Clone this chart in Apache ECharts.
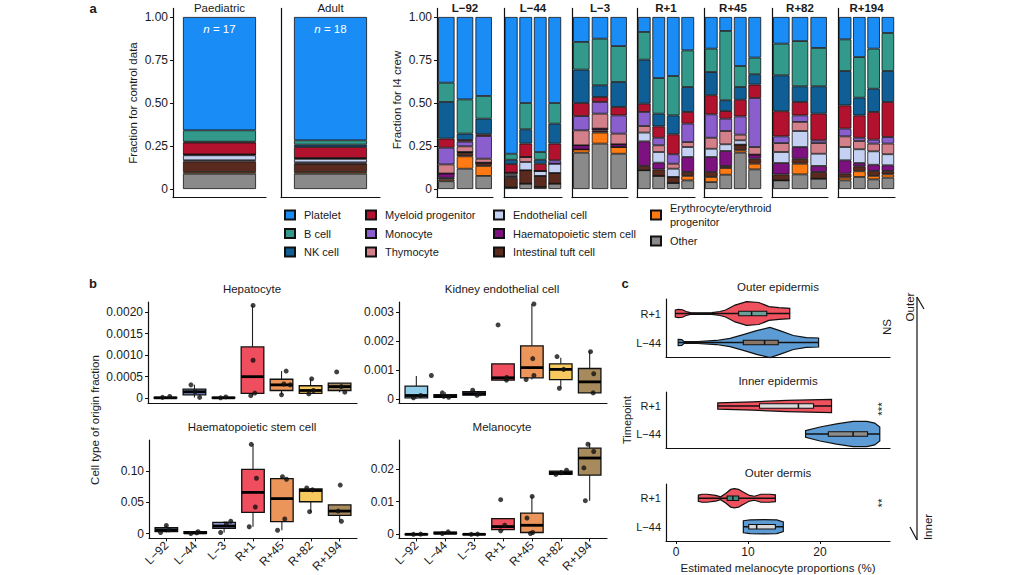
<!DOCTYPE html>
<html><head><meta charset="utf-8">
<script src="https://cdn.jsdelivr.net/npm/echarts@6/dist/echarts.min.js"></script>
<style>html,body{margin:0;padding:0;background:#fff}#c{width:1024px;height:575px}</style>
</head><body><div id="c"></div>
<script>
const FONT = '"Liberation Sans", Arial, Helvetica, sans-serif';
const INK = '#1a1a1a';

// ================= Panel a data =================
const stackOrder = ['Other','Erythrocyte/erythroid progenitor','Intestinal tuft cell','Haematopoietic stem cell','Endothelial cell','Thymocyte','Monocyte','Myeloid progenitor','NK cell','B cell','Platelet'];
const controlGroups = ['Paediatric','Adult'];
const controlN = [17, 18];
const controlOther    = [0.089, 0.089];
const controlErythro  = [0.010, 0.010];
const controlTuft     = [0.061, 0.048];
const controlHSC      = [0.007, 0.008];
const controlEndo     = [0.029, 0.020];
const controlThymo    = [0.005, 0.005];
const controlMono     = [0, 0];
const controlMyeloid  = [0.069, 0.064];
const controlNK       = [0.005, 0.014];
const controlB        = [0.066, 0.025];
const controlPlatelet = [0.659, 0.717];

const crewTimepoints = ['L\u221292','L\u221244','L\u22123','R+1','R+45','R+82','R+194'];
const crewSamplesPerTimepoint = [3,4,3,4,4,3,4];
const crewOther    = [0.045,0.118,0.076, 0.010,0.031,0.012,0.031, 0.211,0.264,0.205, 0.109,0.076,0.035,0.050, 0.040,0.083,0.211,0.114, 0.050,0.085,0.060, 0.050,0.070,0.056,0.066];
const crewErythro  = [0.010,0.072,0.058, 0,0,0,0, 0.019,0.064,0.039, 0,0,0,0.026, 0.030,0.039,0.014,0.033, 0,0.062,0, 0.016,0.033,0.020,0.019];
const crewTuft     = [0.010,0.020,0.019, 0.055,0.078,0.064,0.062, 0,0.012,0, 0.025,0.038,0.035,0.023, 0.029,0.012,0.033,0.029, 0.035,0.029,0.039, 0.023,0.029,0.029,0.020];
const crewHSC      = [0.025,0.005,0, 0.010,0,0,0, 0.024,0.011,0.016, 0.143,0.039,0,0.087, 0.087,0.087,0,0.024, 0.066,0.068,0.035, 0.078,0.019,0.036,0.033];
const crewEndo     = [0,0,0, 0.010,0.048,0.029,0.054, 0,0,0, 0.051,0.062,0.048,0.058, 0.048,0.039,0.025,0, 0.064,0.093,0.071, 0.077,0.080,0.078,0.064];
const crewThymo    = [0.053,0.033,0.023, 0.010,0.029,0,0, 0.087,0.087,0.062, 0.038,0.039,0.029,0.029, 0.064,0.077,0.033,0.044, 0.052,0.053,0.062, 0.062,0.048,0.045,0.062];
const crewMono     = [0.097,0.027,0.132, 0,0,0,0.020, 0.083,0.068,0.106, 0.082,0.044,0.055,0.107, 0.136,0.072,0.106,0.285, 0.039,0.038,0.016, 0.045,0.019,0.023,0.038];
const crewMyeloid  = [0.053,0.010,0.010, 0.050,0.078,0.042,0.097, 0.076,0.029,0.049, 0.048,0.066,0.116,0.068, 0.111,0.044,0.097,0.078, 0.146,0.078,0.155, 0.135,0.130,0.161,0.204];
const crewNK       = [0.213,0.037,0.091, 0.025,0.083,0.023,0.116, 0.194,0.068,0.145, 0.256,0.074,0.110,0.145, 0.135,0.063,0.074,0.060, 0.209,0.091,0.159, 0.200,0.103,0.135,0.180];
const crewB        = [0.112,0.199,0.132, 0.035,0.153,0.045,0.120, 0.161,0.271,0.209, 0.161,0.207,0.229,0.213, 0.136,0.403,0.122,0.097, 0.184,0.263,0.223, 0.184,0.236,0.233,0.221];
const crewPlatelet = [0.382,0.479,0.459, 0.795,0.500,0.785,0.500, 0.145,0.126,0.169, 0.087,0.355,0.343,0.194, 0.184,0.081,0.285,0.236, 0.155,0.140,0.180, 0.130,0.233,0.184,0.093];
const fractionTicks = [0, 0.25, 0.5, 0.75, 1];

// ================= Panel b data =================
const bTimepoints = ['L\u221292','L\u221244','L\u22123','R+1','R+45','R+82','R+194'];
// [min, q1, median, q3, max] per timepoint
const hepatocyteBox = [
  [0, 0.000005, 0.00001, 0.00002, 0.00004],
  [0.00002, 0.00008, 0.00015, 0.00021, 0.00031],
  [0, 0.000005, 0.00001, 0.00002, 0.00003],
  [0.00006, 0.000115, 0.0005, 0.00119, 0.00215],
  [0.00008, 0.00018, 0.00031, 0.00044, 0.00063],
  [0.0001, 0.000115, 0.00018, 0.00029, 0.00046],
  [0.00014, 0.00018, 0.00027, 0.00035, 0.00035]];
// [timepoint index, jitter, value]
const hepatocyteDots = [[0,-0.1,0.00002],[0,0.15,0.00004],[1,-0.12,0.00031],[1,0.18,0.00002],[1,0.02,0.00015],[2,-0.1,0.00001],[2,0.08,0.00003],[3,0.02,0.00215],[3,0.02,0.00088],[3,0.08,0.00012],[3,-0.06,0.00006],[4,0.16,0.00063],[4,0.3,0.00031],[4,0,0.00008],[4,0.08,0.00033],[5,0.04,0.00045],[5,-0.06,0.0001],[5,0.1,0.00018],[6,-0.1,0.00061],[6,0.18,0.00014],[6,0.06,0.00027]];
const hepatocyteTicks = [0, 0.0005, 0.001, 0.0015, 0.002];

const kidneyBox = [
  [0.00002, 0.00004, 0.00012, 0.00044, 0.00079],
  [0.00004, 0.00006, 0.00009, 0.00015, 0.00023],
  [0.00012, 0.00013, 0.00018, 0.00025, 0.0003],
  [0.00064, 0.00065, 0.00073, 0.00121, 0.00121],
  [0.00067, 0.00073, 0.00108, 0.00183, 0.00327],
  [0.00038, 0.00067, 0.00102, 0.00121, 0.00142],
  [0.00021, 0.00021, 0.00059, 0.00105, 0.00165]];
const kidneyDots = [[0,0.52,0.00081],[0,-0.1,0.00004],[0,0.15,0.00012],[1,-0.1,0.00021],[1,0.12,0.00006],[1,-0.05,0.00009],[2,-0.05,0.0003],[2,0.1,0.00013],[2,0.2,0.00018],[3,-0.17,0.00255],[3,0.13,0.00074],[3,0.12,0.00065],[4,0.07,0.00327],[4,0.03,0.00139],[4,0.07,0.00081],[4,-0.2,0.00067],[5,-0.13,0.00146],[5,-0.05,0.00037],[5,0.1,0.00102],[6,0.03,0.00163],[6,0.14,0.00087],[6,0.12,0.00021]];
const kidneyTicks = [0, 0.001, 0.002, 0.003];

const hscBox = [
  [0.0015, 0.003, 0.0057, 0.0093, 0.013],
  [0, 0.0003, 0.001, 0.003, 0.004],
  [0.0016, 0.0083, 0.012, 0.018, 0.0197],
  [0.011, 0.034, 0.066, 0.103, 0.143],
  [0.0052, 0.019, 0.056, 0.088, 0.091],
  [0.034, 0.051, 0.069, 0.0715, 0.073],
  [0.0197, 0.029, 0.036, 0.046, 0.046]];
const hscDots = [[0,0,0.013],[0,-0.2,0.0015],[0,0.1,0.006],[1,0.1,0.003],[1,-0.15,0],[1,0.05,0.001],[2,0.23,0.0197],[2,-0.12,0.0016],[2,0.08,0.0155],[3,-0.06,0.143],[3,0.12,0.0886],[3,0.08,0.0425],[3,-0.13,0.0109],[4,0.02,0.0912],[4,0.16,0.087],[4,0.1,0.0233],[4,-0.15,0.0052],[5,-0.14,0.073],[5,-0.04,0.035],[5,0.06,0.07],[6,0.02,0.0777],[6,0.06,0.0197],[6,-0.05,0.036]];
const hscTicks = [0, 0.05, 0.1];

const melanocyteBox = [
  [0, 0, 0.00005, 0.0001, 0.0002],
  [0.0001, 0.0002, 0.0004, 0.0007, 0.0009],
  [0, 0, 0.00005, 0.0001, 0.0002],
  [0.0011, 0.0015, 0.0024, 0.0048, 0.0048],
  [0.0003, 0.0006, 0.0028, 0.0065, 0.0116],
  [0.0183, 0.0183, 0.0188, 0.0193, 0.0196],
  [0.0103, 0.0181, 0.0233, 0.0263, 0.0278]];
const melanocyteDots = [[0,-0.1,0.00005],[0,0.15,0.0001],[1,0.1,0.0008],[1,-0.1,0.0003],[2,-0.1,0.00005],[2,0.12,0.0001],[3,-0.08,0.0106],[3,0.06,0.0028],[3,-0.08,0.0011],[4,0.01,0.0116],[4,-0.17,0.005],[4,0.03,0.0006],[4,-0.05,0.0003],[5,0.2,0.0196],[5,-0.17,0.0183],[5,0.02,0.0188],[6,-0.06,0.0275],[6,0.14,0.0253],[6,-0.2,0.0203],[6,-0.15,0.0103]];
const melanocyteTicks = [0, 0.01, 0.02];

// ================= Panel c data =================
const cTimepoints = ['L\u221244','R+1'];
const cTicks = [0, 10, 20];
// violin outline: [melanocyte %, half-width as fraction of row height]
const outerEpidermisR1 = [[-0.1,0.12],[0.3,0.14],[0.9,0.13],[1.4,0.07],[2.0,0.03],[3.5,0.02],[5.0,0.03],[6.1,0.07],[6.9,0.12],[8.2,0.29],[9.8,0.41],[11.5,0.38],[12.9,0.24],[14.3,0.2],[15.8,0.18]];
const outerEpidermisL44 = [[0.3,0.11],[0.8,0.1],[1.1,0.035],[3.0,0.035],[5.6,0.07],[7.5,0.14],[9.35,0.27],[11.2,0.41],[13.05,0.52],[14.4,0.41],[16.3,0.24],[18.1,0.17],[19.8,0.155]];
const innerEpidermisR1 = [[5.8,0.11],[10.7,0.15],[15.4,0.2],[20,0.23],[21.6,0.24]];
const innerEpidermisL44 = [[18,0.12],[20,0.25],[22.3,0.36],[24.6,0.45],[26.5,0.45],[27.6,0.39],[28.3,0.25]];
const outerDermisR1 = [[3.1,0.11],[3.6,0.14],[4.3,0.14],[5.5,0.1],[6.2,0.05],[6.9,0.17],[7.6,0.31],[8.1,0.34],[8.7,0.31],[9.2,0.24],[10.2,0.1],[10.9,0.07],[11.8,0.14],[13,0.14],[13.8,0.12]];
const outerDermisL44 = [[9.35,0.21],[10.3,0.24],[12.2,0.25],[14,0.24],[14.9,0.17]];
// inner boxplots: [min, q1, median, q3, max]
const outerEpidermisR1Box = [-0.1, 8.7, 10.5, 12.6, 15.8];
const outerEpidermisL44Box = [0.3, 9.35, 12.3, 14.2, 19.8];
const innerEpidermisR1Box = [5.8, 11.6, 17.0, 19.1, 21.6];
const innerEpidermisL44Box = [18.0, 21.15, 24.6, 26.6, 28.3];
const outerDermisR1Box = [3.1, 7.1, 7.9, 8.7, 13.8];
const outerDermisL44Box = [9.35, 10.1, 11.2, 13.8, 14.9];
const layerNames = ['Outer epidermis','Inner epidermis','Outer dermis'];
const layerSignif = ['NS','***','**'];

// ================= styles =================
const cellColors = {
  'Platelet':'#1a8cf5','B cell':'#33998a','NK cell':'#0f5e95','Myeloid progenitor':'#b3122f',
  'Monocyte':'#8a5fcd','Thymocyte':'#d3808b','Endothelial cell':'#c5d1f2','Haematopoietic stem cell':'#7c117f',
  'Intestinal tuft cell':'#5a2a1e','Erythrocyte/erythroid progenitor':'#ff7a12','Other':'#8a8a8a'};
const tpColors = ['#8fcde9','#6f8fc9','#8d99c8','#ee4e5d','#eb955a','#f7c95e','#a88b5c'];
const AXLINE = {show:true, onZero:false, lineStyle:{color:'#111', width:1.2}};
const TXT = {fontFamily:FONT, color:INK, fontSize:12};
const TXTC = {fontFamily:FONT, color:INK, fontSize:11};

const grids=[], xAxes=[], yAxes=[], series=[];
function addGrid(g, x, y){ grids.push(g); const i=grids.length-1; x.gridIndex=i; y.gridIndex=i; xAxes.push(x); yAxes.push(y); return i; }

function fracY(show){
  return {type:'value', min:-0.05, max:1.05, splitLine:{show:false}, axisLine:AXLINE,
    axisTick:{show:show, length:3, customValues:fractionTicks, lineStyle:{color:'#111'}},
    axisLabel:{show:show, customValues:fractionTicks, margin:5, formatter:v=>v===0?'0':v.toFixed(2), ...TXT}};
}
function hiddenCatX(data){ return {type:'category', data, axisLine:AXLINE, axisTick:{show:false}, axisLabel:{show:false}}; }

const A_TOP = 8.4, A_H = 189.2;
// control facets
const controlByType = [controlOther,controlErythro,controlTuft,controlHSC,controlEndo,controlThymo,controlMono,controlMyeloid,controlNK,controlB,controlPlatelet];
const ctrlLefts=[173,281], ctrlWidths=[93,99];
controlGroups.forEach((g,gi)=>{
  const idx = addGrid({left:ctrlLefts[gi], top:A_TOP, width:ctrlWidths[gi], height:A_H}, hiddenCatX([g]), fracY(gi===0));
  stackOrder.forEach((t,k)=>{
    series.push({type:'bar', name:t, xAxisIndex:idx, yAxisIndex:idx, stack:'ctrl'+gi, barWidth:73,
      data:[controlByType[k][gi]], itemStyle:{color:cellColors[t], borderColor:'#111', borderWidth:0.8}, silent:true});
  });
});
// crew facets
const crewByType = [crewOther,crewErythro,crewTuft,crewHSC,crewEndo,crewThymo,crewMono,crewMyeloid,crewNK,crewB,crewPlatelet];
const crewLefts=[437,504,572,637,704,772,838], crewWidths=[56,58,56,58,58,56,57];
let start=0;
crewTimepoints.forEach((tp,fi)=>{
  const n = crewSamplesPerTimepoint[fi];
  const cats = Array.from({length:n},(_,j)=>tp+' #'+(j+1));
  const idx = addGrid({left:crewLefts[fi], top:A_TOP, width:crewWidths[fi], height:A_H}, hiddenCatX(cats), fracY(fi===0));
  stackOrder.forEach((t,k)=>{
    series.push({type:'bar', name:t, xAxisIndex:idx, yAxisIndex:idx, stack:'crew'+fi, barCategoryGap:'12%',
      data:crewByType[k].slice(start,start+n), itemStyle:{color:cellColors[t], borderColor:'#111', borderWidth:0.8}, silent:true});
  });
  start+=n;
});

// panel b
function bX(showLabels){
  return {type:'value', min:-0.6, max:6.6, splitLine:{show:false}, axisLine:AXLINE,
    axisTick:{show:showLabels, length:3, customValues:[0,1,2,3,4,5,6], lineStyle:{color:'#111'}},
    axisLabel:{show:showLabels, customValues:[0,1,2,3,4,5,6], formatter:v=>bTimepoints[v], rotate:45, margin:5, ...TXT}};
}
function bY(min,max,ticks,dec){
  return {type:'value', min, max, splitLine:{show:false}, axisLine:AXLINE,
    axisTick:{show:true, length:3, customValues:ticks, lineStyle:{color:'#111'}},
    axisLabel:{customValues:ticks, margin:5, formatter:v=>v===0?'0':v.toFixed(dec), ...TXT}};
}
function boxSeries(gi, boxes){
  return {type:'custom', xAxisIndex:gi, yAxisIndex:gi, data:boxes.map((b,i)=>[i].concat(b)), encode:{x:0,y:[1,2,3,4,5]}, silent:true,
    renderItem(params, api){
      const i=api.value(0);
      const p=[1,2,3,4,5].map(d=>api.coord([i, api.value(d)]));
      const w=api.size([0.78,0])[0], cx=p[0][0];
      return {type:'group', children:[
        {type:'line', shape:{x1:cx,y1:p[0][1],x2:cx,y2:p[1][1]}, style:{stroke:'#222',lineWidth:1.1}},
        {type:'line', shape:{x1:cx,y1:p[3][1],x2:cx,y2:p[4][1]}, style:{stroke:'#222',lineWidth:1.1}},
        {type:'rect', shape:{x:cx-w/2,y:p[3][1],width:w,height:Math.max(p[1][1]-p[3][1],0.5)}, style:{fill:tpColors[i],stroke:'#111',lineWidth:1.3}},
        {type:'line', shape:{x1:cx-w/2,y1:p[2][1],x2:cx+w/2,y2:p[2][1]}, style:{stroke:'#000',lineWidth:2.8}}
      ]};
    }};
}
function dotSeries(gi, dots){
  return {type:'scatter', xAxisIndex:gi, yAxisIndex:gi, data:dots.map(d=>[d[0]+d[1], d[2]]), symbolSize:5, itemStyle:{color:'#111'}, silent:true, z:5};
}
const bPanels = [
  {g:{left:148,top:302,width:209,height:101}, min:-0.00011, max:0.00223, ticks:hepatocyteTicks, dec:4, box:hepatocyteBox, dots:hepatocyteDots, lab:false},
  {g:{left:399,top:302,width:208,height:101}, min:-0.000138, max:0.00334, ticks:kidneyTicks, dec:3, box:kidneyBox, dots:kidneyDots, lab:false},
  {g:{left:149,top:440,width:208,height:101}, min:-0.0078, max:0.15, ticks:hscTicks, dec:2, box:hscBox, dots:hscDots, lab:true},
  {g:{left:399,top:440,width:208,height:100}, min:-0.0012, max:0.0288, ticks:melanocyteTicks, dec:2, box:melanocyteBox, dots:melanocyteDots, lab:true}];
bPanels.forEach(p=>{
  const gi = addGrid(p.g, bX(p.lab), bY(p.min,p.max,p.ticks,p.dec));
  series.push(boxSeries(gi,p.box));
  series.push(dotSeries(gi,p.dots));
});

// panel c
const cGrids = [{left:666,top:299,width:224,height:58},{left:666,top:392,width:224,height:56},{left:666,top:484,width:224,height:58}];
const violins = [
  [outerEpidermisR1, outerEpidermisR1Box, 1, '#6a9e9a'],
  [outerEpidermisL44, outerEpidermisL44Box, 0, '#8a7566'],
  [innerEpidermisR1, innerEpidermisR1Box, 1, '#dcdcdc'],
  [innerEpidermisL44, innerEpidermisL44Box, 0, '#8c8c8c'],
  [outerDermisR1, outerDermisR1Box, 1, '#3f8f80'],
  [outerDermisL44, outerDermisL44Box, 0, '#d8d8d8']];
const violinFill = ['#5d9bd4','#ef515e'];
const cIdx=[];
cGrids.forEach((g,k)=>{
  const last = k===2;
  const gi = addGrid(g,
    {type:'value', min:-1.39, max:29.72, splitLine:{show:false}, axisLine:AXLINE,
     axisTick:{show:last, length:3, customValues:cTicks, lineStyle:{color:'#111'}},
     axisLabel:{show:last, customValues:cTicks, margin:5, ...TXT},
     name: last?'Estimated melanocyte proportions (%)':'', nameLocation:'middle', nameGap:21, nameTextStyle:{...TXT, fontSize:11.5}},
    {type:'category', data:cTimepoints, axisLine:AXLINE, axisTick:{alignWithLabel:true, length:3, lineStyle:{color:'#111'}}, axisLabel:{margin:5, ...TXTC}});
  cIdx.push(gi);
});
function violinSeries(gi, profile, box, row, boxFill){
  return {type:'custom', xAxisIndex:gi, yAxisIndex:gi, data:[[box[2], row]], encode:{x:0,y:1}, silent:true,
    renderItem(params, api){
      const band = api.size([0,1])[1];
      const up = profile.map(p=>{const c=api.coord([p[0],row]); return [c[0], c[1]-p[1]*band];});
      const dn = profile.slice().reverse().map(p=>{const c=api.coord([p[0],row]); return [c[0], c[1]+p[1]*band];});
      const cy = api.coord([0,row])[1];
      const X = v=>api.coord([v,row])[0];
      const bh = 4.6;
      return {type:'group', children:[
        {type:'polygon', shape:{points:up.concat(dn)}, style:{fill:violinFill[row], stroke:'#111', lineWidth:1.2}},
        {type:'line', shape:{x1:X(box[0]),y1:cy,x2:X(box[4]),y2:cy}, style:{stroke:'#111',lineWidth:1.3}},
        {type:'rect', shape:{x:X(box[1]),y:cy-bh/2,width:X(box[3])-X(box[1]),height:bh}, style:{fill:boxFill,stroke:'#111',lineWidth:1.1}},
        {type:'line', shape:{x1:X(box[2]),y1:cy-bh/2,x2:X(box[2]),y2:cy+bh/2}, style:{stroke:'#111',lineWidth:1.5}}
      ]};
    }};
}
violins.forEach((v,k)=>{ series.push(violinSeries(cIdx[Math.floor(k/2)], v[0], v[1], v[2], v[3])); });

// ================= text & decorations =================
function T(text,x,y,o={}){
  return {type:'text', x, y, rotation:o.rot||0, silent:true, z:10,
    style:{text, fill:o.color||INK, fontFamily:FONT, fontSize:o.size||11.5, fontWeight:o.weight||'normal',
      align:o.align||'center', verticalAlign:'middle', rich:o.rich}};
}
const R90 = Math.PI/2;
const graphics = [
  T('a',93,8,{weight:'bold',size:13}), T('b',93,283,{weight:'bold',size:13}), T('c',625,283,{weight:'bold',size:13}),
  T('Fraction for control data',133,103,{rot:R90}), T('Fraction for I4 crew',397,100,{rot:R90}),
  T('Cell type of origin fraction',95,420,{rot:R90}), T('Timepoint',627,420,{rot:R90,size:11}),
  T('Hepatocyte',252,289), T('Kidney endothelial cell',502,289), T('Haematopoietic stem cell',252,427), T('Melanocyte',502,427),
  T('Outer',910,307,{rot:R90}), T('Inner',928,527,{rot:R90}),
  {type:'line', shape:{x1:917,y1:297,x2:917,y2:540}, style:{stroke:'#111',lineWidth:1.2}, silent:true},
  {type:'line', shape:{x1:917,y1:297,x2:924,y2:309}, style:{stroke:'#111',lineWidth:1.2}, silent:true},
  {type:'line', shape:{x1:910,y1:527,x2:917,y2:540}, style:{stroke:'#111',lineWidth:1.2}, silent:true}
];
controlGroups.forEach((g,gi)=>{
  const cx = ctrlLefts[gi]+ctrlWidths[gi]/2;
  graphics.push(T(g,cx,8));
  graphics.push(T('{i|n} = '+controlN[gi],cx,29,{color:'#fff',size:11.5,rich:{i:{fontStyle:'italic',fill:'#fff',fontFamily:FONT,fontSize:11.5}}}));
});
crewTimepoints.forEach((tp,fi)=>{ graphics.push(T(tp,crewLefts[fi]+crewWidths[fi]/2,8,{weight:'bold'})); });
const cTitleY=[287,381,473], signifY=[327,409,503], signifX=[887,882,882];
layerNames.forEach((n,k)=>{ graphics.push(T(n,778,cTitleY[k])); graphics.push(T(layerSignif[k],signifX[k],signifY[k],{rot:R90})); });

const legTxt = {...TXT, fontSize:11, lineHeight:14, padding:[0,0,0,4]};
const legBase = {orient:'vertical', top:208, itemWidth:10, itemHeight:9, itemGap:4.5, padding:0, icon:'rect', selectedMode:false, textStyle:legTxt};
const legend = [
  {...legBase, left:284, data:['Platelet','B cell','NK cell']},
  {...legBase, left:365, data:['Myeloid progenitor','Monocyte','Thymocyte']},
  {...legBase, left:493, data:['Endothelial cell','Haematopoietic stem cell','Intestinal tuft cell']},
  {...legBase, left:650, top:201, itemGap:5, data:['Erythrocyte/erythroid progenitor','Other'],
    formatter:n=>n.indexOf('Erythrocyte')===0?'Erythrocyte/erythroid\nprogenitor':n}];

const chart = echarts.init(document.getElementById('c'), null, {renderer:'svg', width:1024, height:575});
chart.setOption({backgroundColor:'#fff', animation:false, textStyle:{fontFamily:FONT},
  grid:grids, xAxis:xAxes, yAxis:yAxes, series, legend, graphic:graphics});
</script></body></html>
